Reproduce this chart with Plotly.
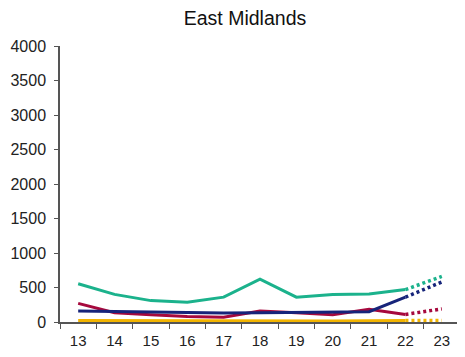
import plotly.graph_objects as go

years = ["13", "14", "15", "16", "17", "18", "19", "20", "21", "22", "23"]
green = [555, 400, 310, 285, 360, 620, 360, 400, 405, 470, 660]
red = [270, 135, 105, 80, 70, 160, 135, 105, 185, 110, 190]
navy = [160, 150, 140, 130, 130, 135, 140, 140, 150, 360, 580]
yellow = [20, 18, 16, 15, 15, 15, 15, 15, 18, 20, 20]

colors = {"green": "#1BB28C", "red": "#A6093D", "navy": "#16247A", "yellow": "#F2B400"}
series = [("yellow", yellow), ("red", red), ("navy", navy), ("green", green)]

fig = go.Figure()
for name, vals in series:
    c = colors[name]
    fig.add_trace(go.Scatter(x=years[:10], y=vals[:10], mode="lines",
                             line=dict(color=c, width=3), showlegend=False))
    fig.add_trace(go.Scatter(x=years[9:], y=vals[9:], mode="lines",
                             line=dict(color=c, width=3.5, dash="3px,3px"), showlegend=False))

# page body has an 8px margin; figure is sized/offset to compensate
W, H = 457, 341
fig.update_layout(
    width=W, height=H,
    margin=dict(l=52, r=W - 52 - 400, t=38, b=H - 314),
    paper_bgcolor="white", plot_bgcolor="white",
    title=dict(text="East Midlands", x=237 / W, xref="container", xanchor="center",
               y=1 - 10 / H, yref="container", yanchor="middle",
               font=dict(family="Liberation Sans, Arial", size=19.5, color="#111111")),
    font=dict(family="Liberation Sans, Arial", size=15, color="#222222"),
)
fig.update_xaxes(type="category", tickson="boundaries", ticks="outside", ticklen=5,
                 tickcolor="#555555", showline=True, linecolor="#555555", linewidth=1.5,
                 showgrid=False, tickfont=dict(size=15), range=[-0.5, 10.5],
                 automargin=False, ticklabelstandoff=4)
fig.update_yaxes(range=[0, 4000], dtick=500, ticks="outside", ticklen=4,
                 tickcolor="#555555", showline=True, linecolor="#555555", linewidth=1.5,
                 showgrid=False, zeroline=False, tickfont=dict(size=16),
                 automargin=False, ticklabelstandoff=5)

fig.write_html("out.html")
